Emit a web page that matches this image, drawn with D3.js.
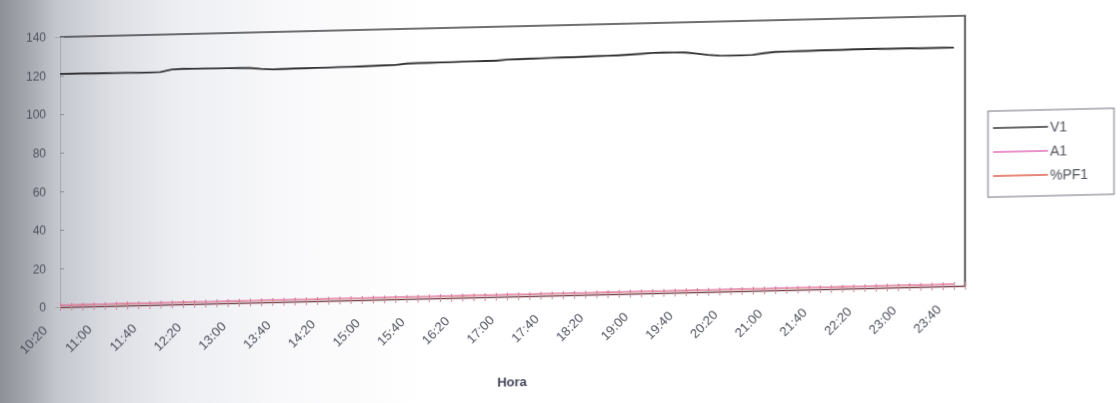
<!DOCTYPE html>
<html><head><meta charset="utf-8">
<script src="https://cdn.jsdelivr.net/npm/d3@7"></script>
<style>html,body{margin:0;padding:0;background:#fff}svg{display:block}</style>
</head>
<body><svg id="c" width="1120" height="403"></svg>
<script>
// ---- data ----
const categories = [
 "10:20","10:30","10:40","10:50","11:00","11:10","11:20","11:30","11:40","11:50",
 "12:00","12:10","12:20","12:30","12:40","12:50","13:00","13:10","13:20","13:30",
 "13:40","13:50","14:00","14:10","14:20","14:30","14:40","14:50","15:00","15:10",
 "15:20","15:30","15:40","15:50","16:00","16:10","16:20","16:30","16:40","16:50",
 "17:00","17:10","17:20","17:30","17:40","17:50","18:00","18:10","18:20","18:30",
 "18:40","18:50","19:00","19:10","19:20","19:30","19:40","19:50","20:00","20:10",
 "20:20","20:30","20:40","20:50","21:00","21:10","21:20","21:30","21:40","21:50",
 "22:00","22:10","22:20","22:30","22:40","22:50","23:00","23:10","23:20","23:30",
 "23:40","23:50"];
const tickLabels = ["10:20","11:00","11:40","12:20","13:00","13:40","14:20","15:00","15:40","16:20",
 "17:00","17:40","18:20","19:00","19:40","20:20","21:00","21:40","22:20","23:00","23:40"];
const v1 = [
 120.9,120.8,120.8,120.7,120.7,120.6,120.6,120.5,120.5,120.6,
 121.8,122.0,121.9,121.9,121.8,121.8,121.7,121.6,
 121.0,120.6,120.7,120.8,120.8,120.9,120.9,121.0,121.0,121.1,
 121.2,121.3,121.4,
 122.0,122.1,122.1,122.2,122.2,122.3,122.3,122.4,122.4,
 122.8,122.9,123.0,123.1,123.2,123.3,123.3,123.4,123.5,123.6,123.7,
 123.9,124.2,124.5,124.6,124.5,124.3,
 123.6,122.8,122.3,122.2,122.2,122.3,
 123.0,123.5,123.6,123.7,123.7,123.8,123.8,
 123.8,123.9,123.9,123.9,123.8,123.8,123.8,123.7,123.7,123.7,123.6];
const a1 = [
 1.1,1.0,1.2,1.1,1.0,1.3,1.2,1.1,1.0,1.2,1.1,1.3,1.2,1.0,1.1,1.2,1.1,1.0,1.2,1.3,
 1.1,1.2,1.0,1.1,1.2,1.3,1.1,1.0,1.2,1.1,1.3,1.2,1.1,1.0,1.2,1.1,1.2,1.3,1.1,1.0,
 1.2,1.1,1.0,1.2,1.3,1.1,1.2,1.0,1.1,1.2,1.1,1.3,1.2,1.1,1.0,1.2,1.1,1.2,1.0,1.1,
 1.3,1.2,1.1,1.0,1.2,1.1,1.2,1.3,1.1,1.0,1.2,1.1,1.0,1.2,1.1,1.3,1.2,1.1,1.0,1.2,1.1];
const pf1 = [
 0.9,0.9,0.8,0.9,0.9,0.9,0.8,0.9,0.9,0.9,0.9,0.8,0.9,0.9,0.9,0.9,0.8,0.9,0.9,0.9,
 0.9,0.9,0.9,0.8,0.9,0.9,0.9,0.9,0.9,0.8,0.9,0.9,0.9,0.9,0.9,0.9,0.8,0.9,0.9,0.9,
 0.9,0.9,0.8,0.9,0.9,0.9,0.9,0.9,0.9,0.8,0.9,0.9,0.9,0.9,0.9,0.9,0.8,0.9,0.9,0.9,
 0.9,0.9,0.9,0.8,0.9,0.9,0.9,0.9,0.9,0.9,0.8,0.9,0.9,0.9,0.9,0.9,0.9,0.8,0.9,0.9,0.9];
const yTicks = [0,20,40,60,80,100,120,140];
const seriesNames = ["V1","A1","%PF1"];
const seriesColors = ["#343438","#e070b8","#e0604c"];

// ---- drawing ----
const svg = d3.select("#c");
const defs = svg.append("defs");
const grad = defs.append("linearGradient").attr("id","bg").attr("x1","0").attr("x2","1").attr("y1","0").attr("y2","0");
[[0,"#8e9098"],[0.025,"#a6a8b0"],[0.05,"#c4c6ce"],[0.1,"#dcdee4"],[0.16,"#eceef2"],[0.25,"#f8f8fa"],[0.38,"#ffffff"],[1,"#ffffff"]]
  .forEach(([o,c])=>grad.append("stop").attr("offset",o).attr("stop-color",c));
defs.append("filter").attr("id","blur").append("feGaussianBlur").attr("stdDeviation",0.6);
svg.append("rect").attr("width",1120).attr("height",403).attr("fill","url(#bg)");

const k = -0.0235;
const g = svg.append("g").attr("transform",`matrix(1,${k},0,1,0,${-k*60})`).attr("filter","url(#blur)");

const L = 60, R = 965, T = 37, B = 307;
const x = d3.scalePoint().domain(categories).range([L, R]);
const y = d3.scaleLinear().domain([0,140]).range([B, T]);
const font = "Liberation Sans, Arial, sans-serif";
const textCol = "#50525e";

// plot frame (top + right)
g.append("path").attr("d",`M${L},${T}H${R}V${B}`).attr("fill","none").attr("stroke","#404046").attr("stroke-width",1.7);

// y axis
const ya = g.append("g").attr("transform",`translate(${L},0)`).call(d3.axisLeft(y).tickValues(yTicks).tickSize(5).tickPadding(9));
ya.select(".domain").attr("stroke","#a8aab2");
ya.selectAll(".tick line").attr("stroke","#8a8c94").attr("x2",4);
ya.selectAll(".tick text").attr("font-family",font).attr("font-size",12).attr("fill",textCol);

// x axis (cross ticks at every category)
const xa = g.append("g").attr("transform",`translate(0,${B})`).call(d3.axisBottom(x).tickSize(0).tickFormat(""));
xa.select(".domain").attr("stroke","#7a4450").attr("stroke-width",1.6);
xa.selectAll(".tick line").attr("y1",-4).attr("y2",4).attr("stroke","#c88a96").attr("stroke-width",1);
g.append("g").selectAll("text").data(tickLabels).join("text")
  .attr("transform",d=>`translate(${x(d)-12},${B+24}) rotate(-45)`)
  .attr("text-anchor","end").attr("font-family",font).attr("font-size",13).attr("fill",textCol).text(d=>d);

g.append("text").attr("x",512).attr("y",397).attr("text-anchor","middle")
  .attr("font-family",font).attr("font-size",13).attr("font-weight","bold").attr("fill","#44465a").text("Hora");

// series
const line = d3.line().x((d,i)=>x(categories[i])).y(d=>y(d));
g.append("path").datum(pf1).attr("d",line).attr("fill","none").attr("stroke",seriesColors[2]).attr("stroke-width",1.2).attr("opacity",0.7);
g.append("path").datum(a1).attr("d",line).attr("fill","none").attr("stroke",seriesColors[1]).attr("stroke-width",1.2).attr("opacity",0.6);
g.append("path").datum(v1).attr("d",line).attr("fill","none").attr("stroke",seriesColors[0]).attr("stroke-width",1.9);

// legend
const lg = g.append("g").attr("transform","translate(988,133)");
lg.append("rect").attr("x",0).attr("y",0).attr("width",126).attr("height",86).attr("fill","#fff").attr("stroke","#8a8c94").attr("stroke-width",1.2);
seriesNames.forEach((n,i)=>{
  const yy = 17 + i*24;
  lg.append("line").attr("x1",5).attr("x2",60).attr("y1",yy).attr("y2",yy).attr("stroke",seriesColors[i]).attr("stroke-width",1.6);
  lg.append("text").attr("x",62).attr("y",yy+5).attr("font-family",font).attr("font-size",14).attr("fill","#50525c").text(n);
});
</script>
</body></html>
